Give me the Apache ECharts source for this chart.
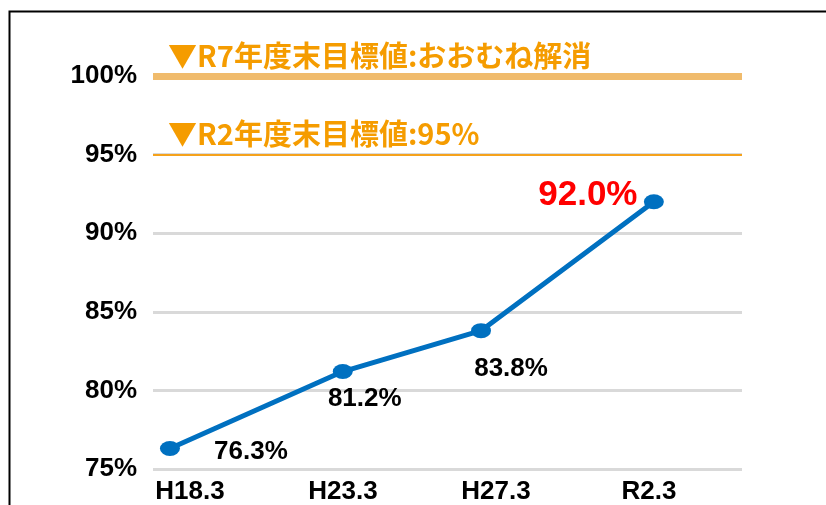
<!DOCTYPE html>
<html>
<head>
<meta charset="utf-8">
<script src="https://cdn.jsdelivr.net/npm/echarts@6/dist/echarts.min.js"></script>
<style>
  html, body { margin: 0; padding: 0; background: #fff; }
  #chart { width: 826px; height: 505px; }
</style>
</head>
<body>
<div id="chart"></div>
<script>
// categories (fiscal year end) and the matching western year for spacing
var categories = ['H18.3', 'H23.3', 'H27.3', 'R2.3'];
var years = [2006, 2011, 2015, 2020];
var rates = [76.3, 81.2, 83.8, 92.0];
var yTicks = { min: 75, max: 100, step: 5 };
var targets = [
  { value: 100, text: '▼R7年度末目標値:おおむね解消' },
  { value: 95, text: '▼R2年度末目標値:95%' }
];

var latin = 'Liberation Sans';
var cjk = 'Noto Sans CJK JP';

var labelOffsets = [[81, 3], [22, 27], [30, 38], [-66, -6]];

var points = rates.map(function (v, i) {
  var last = i === rates.length - 1;
  return {
    value: [years[i], v],
    label: {
      show: true,
      position: 'inside',
      offset: labelOffsets[i],
      formatter: v.toFixed(1) + '%',
      color: last ? '#ff0000' : '#000',
      fontSize: last ? 35 : 26,
      fontWeight: 'bold',
      fontFamily: latin
    }
  };
});

var chart = echarts.init(document.getElementById('chart'));
var option = {
  backgroundColor: '#fff',
  animation: false,
  graphic: [{
    type: 'rect',
    left: 7, top: 9,
    shape: { width: 900, height: 600 },
    style: { fill: 'none', stroke: '#000', lineWidth: 2 }
  }],
  grid: [
    { left: 153, right: 84, top: 76, bottom: 36 },
    { left: 190, right: 177, top: 76, bottom: 36 }
  ],
  xAxis: [{
    type: 'value',
    gridIndex: 0,
    min: 2005.51,
    max: 2022.55,
    axisLine: { show: false },
    axisTick: { show: false },
    axisLabel: { show: false },
    splitLine: { show: false }
  }, {
    type: 'category',
    gridIndex: 1,
    data: categories,
    boundaryGap: false,
    axisLine: { show: false },
    axisTick: { show: false },
    axisLabel: {
      margin: 11,
      color: '#000',
      fontSize: 26,
      fontWeight: 'bold',
      fontFamily: latin
    }
  }],
  yAxis: [{
    type: 'value',
    gridIndex: 0,
    min: yTicks.min,
    max: yTicks.max,
    interval: yTicks.step,
    axisLine: { show: false },
    axisTick: { show: false },
    axisLabel: {
      formatter: '{value}%',
      margin: 16,
      padding: [0, 0, 8, 0],
      color: '#000',
      fontSize: 26,
      fontWeight: 'bold',
      fontFamily: latin
    },
    splitLine: { lineStyle: { color: '#d9d9d9', width: 3 } }
  }, {
    type: 'value',
    gridIndex: 1,
    show: false
  }],
  series: [{
    type: 'line',
    xAxisIndex: 0,
    yAxisIndex: 0,
    data: points,
    symbol: 'circle',
    symbolSize: [20, 15],
    lineStyle: { color: '#0070c0', width: 5 },
    itemStyle: { color: '#0070c0' },
    markLine: {
      silent: true,
      symbol: 'none',
      data: targets.map(function (t, i) {
        return {
          yAxis: t.value,
          lineStyle: {
            type: 'solid',
            color: i === 0 ? '#f0bb6c' : '#f5a21c',
            width: i === 0 ? 7 : 2
          },
          label: {
            show: true,
            position: 'insideStartTop',
            distance: [15, 6],
            formatter: t.text,
            color: '#f59c00',
            fontSize: 29,
            fontWeight: 'bold',
            fontFamily: cjk
          }
        };
      })
    }
  }]
};
chart.setOption(option);
</script>
</body>
</html>
